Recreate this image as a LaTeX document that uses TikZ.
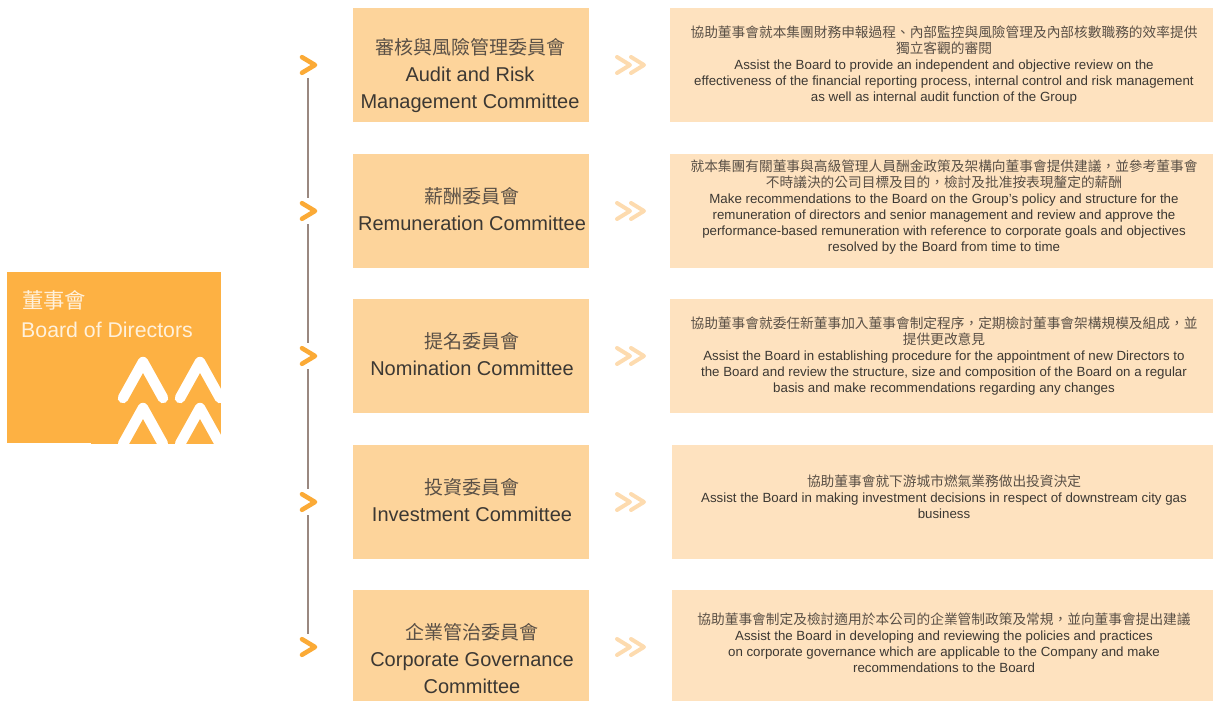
\documentclass[tikz,border=0pt]{standalone}
\usepackage{fontspec}
\setmainfont{Liberation Sans}
\newfontfamily\cjk{Noto Sans CJK TC}
\definecolor{boardfill}{HTML}{FDB143}
\definecolor{commfill}{HTML}{FDD49B}
\definecolor{descfill}{HTML}{FEE2BF}
\definecolor{inktext}{HTML}{3C3833}
\definecolor{zhtext}{HTML}{5A5046}
\definecolor{boardtext}{HTML}{FFF1DC}
\definecolor{linecol}{HTML}{9A8880}
\definecolor{chevcol}{HTML}{FBAA36}
\definecolor{dchevcol}{HTML}{FDDBAF}
\newcommand{\zhc}[1]{{\cjk\color{zhtext}\fontsize{19}{27}\selectfont #1}}
\newcommand{\zhd}[1]{{\cjk\color{zhtext}\fontsize{13.7}{16}\selectfont #1}}
\tikzset{
  x=1pt,y=-1pt,
  commbox/.style={fill=commfill,anchor=north west,inner sep=0,outer sep=0,draw=none},
  descbox/.style={fill=descfill,anchor=north west,inner sep=0,outer sep=0,draw=none},
  commtext/.style={align=center,inner sep=0,text=inktext,font=\fontsize{20}{27}\selectfont},
  desctext/.style={align=center,inner sep=0,text=inktext,font=\fontsize{13.3}{16}\selectfont},
  hub/.style={circle,minimum size=26pt,inner sep=0,outer sep=0},
  spine/.style={draw=linecol,line width=1.6pt},
  chev/.style={draw=chevcol,line width=4.6pt,line cap=round,line join=round},
  dchev/.style={draw=dchevcol,line width=4pt,line cap=round,line join=round},
  peak/.style={draw=white,line width=10.5pt,line cap=round,line join=round},
}
\begin{document}
\begin{tikzpicture}
\useasboundingbox (0,0) rectangle (1213,701);
% board
\node[anchor=north west,fill=boardfill,inner sep=0,minimum width=214pt,minimum height=172pt] (board) at (7,272) {};
\begin{scope}
\clip (7,272) rectangle (221,444);
\draw[peak] (123,398) -- (143,362) -- (163,398);
\draw[peak] (180,398) -- (200,362) -- (220,398);
\draw[peak] (123,444) -- (143,408) -- (163,444);
\draw[peak] (180,444) -- (200,408) -- (220,444);
\end{scope}
\fill[white] (7,443) rectangle (91,444.2);
\node[anchor=base west,inner sep=0,text=boardtext,font=\cjk\fontsize{21.3}{24}\selectfont] (bzh) at (22,308) {董事會};
\node[anchor=base west,inner sep=0,text=boardtext,font=\fontsize{21.3}{24}\selectfont] (ben) at (21,337) {Board of Directors};
% committee boxes
\node[commbox,minimum width=236pt,minimum height=114pt] (c1) at (353,8) {};
\node[commbox,minimum width=236pt,minimum height=114pt] (c2) at (353,154) {};
\node[commbox,minimum width=236pt,minimum height=114pt] (c3) at (353,299) {};
\node[commbox,minimum width=236pt,minimum height=114pt] (c4) at (353,445) {};
\node[commbox,minimum width=236pt,minimum height=111pt] (c5) at (353,590) {};
% description boxes
\node[descbox,minimum width=543pt,minimum height=114pt] (d1) at (670,8) {};
\node[descbox,minimum width=543pt,minimum height=114pt] (d2) at (670,154) {};
\node[descbox,minimum width=543pt,minimum height=114pt] (d3) at (670,299) {};
\node[descbox,minimum width=541pt,minimum height=114pt] (d4) at (672,445) {};
\node[descbox,minimum width=541pt,minimum height=111pt] (d5) at (672,590) {};
% committee text
\node[commtext] (t1) at (470,76) {\zhc{審核與風險管理委員會}\\Audit and Risk\\Management Committee};
\node[commtext] (t2) at (472,209) {\zhc{薪酬委員會}\\Remuneration Committee};
\node[commtext] (t3) at (472,354) {\zhc{提名委員會}\\Nomination Committee};
\node[commtext] (t4) at (472,500) {\zhc{投資委員會}\\Investment Committee};
\node[commtext] (t5) at (472,659) {\zhc{企業管治委員會}\\Corporate Governance\\Committee};
% descriptions
\node[desctext] (e1) at (944,65) {\zhd{協助董事會就本集團財務申報過程、內部監控與風險管理及內部核數職務的效率提供}\\\zhd{獨立客觀的審閱}\\Assist the Board to provide an independent and objective review on the\\effectiveness of the financial reporting process, internal control and risk management\\as well as internal audit function of the Group};
\node[desctext] (e2) at (944,207) {\zhd{就本集團有關董事與高級管理人員酬金政策及架構向董事會提供建議，並參考董事會}\\\zhd{不時議決的公司目標及目的，檢討及批准按表現釐定的薪酬}\\Make recommendations to the Board on the Group's policy and structure for the\\remuneration of directors and senior management and review and approve the\\performance-based remuneration with reference to corporate goals and objectives\\resolved by the Board from time to time};
\node[desctext] (e3) at (944,356) {\zhd{協助董事會就委任新董事加入董事會制定程序，定期檢討董事會架構規模及組成，並}\\\zhd{提供更改意見}\\Assist the Board in establishing procedure for the appointment of new Directors to\\the Board and review the structure, size and composition of the Board on a regular\\basis and make recommendations regarding any changes};
\node[desctext] (e4) at (944,497) {\zhd{協助董事會就下游城市燃氣業務做出投資決定}\\Assist the Board in making investment decisions in respect of downstream city gas\\business};
\node[desctext] (e5) at (944,643) {\zhd{協助董事會制定及檢討適用於本公司的企業管制政策及常規，並向董事會提出建議}\\Assist the Board in developing and reviewing the policies and practices\\on corporate governance which are applicable to the Company and make\\recommendations to the Board};
% timeline hubs and connectors
\node[hub] (h1) at (308,65) {};
\node[hub] (h2) at (308,211) {};
\node[hub] (h3) at (308,356) {};
\node[hub] (h4) at (308,502) {};
\node[hub] (h5) at (308,647) {};
\draw[spine] (h1) -- (h2);
\draw[spine] (h2) -- (h3);
\draw[spine] (h3) -- (h4);
\draw[spine] (h4) -- (h5);
\foreach \y in {65,211,356,502,647}{
  \draw[chev] (302,\y-7.8) -- (315,\y) -- (302,\y+7.8);
  \draw[dchev] (617,\y-8) -- (630,\y) -- (617,\y+8);
  \draw[dchev] (631,\y-8) -- (644,\y) -- (631,\y+8);
}
\end{tikzpicture}
\end{document}
